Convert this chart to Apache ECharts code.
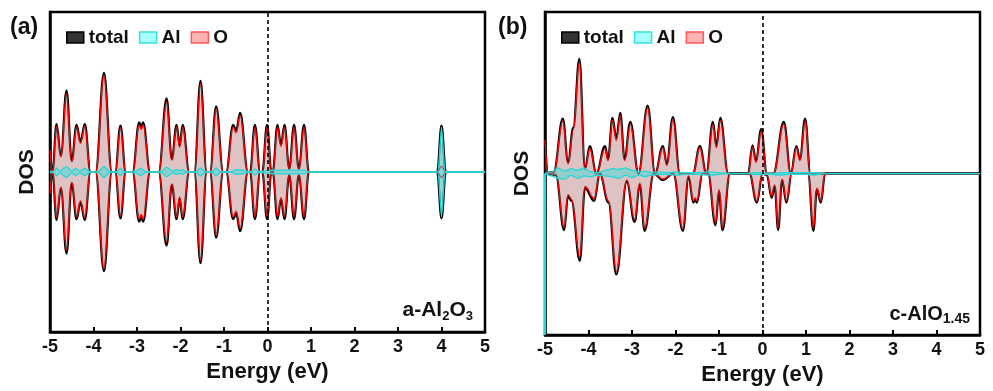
<!DOCTYPE html>
<html>
<head>
<meta charset="utf-8">
<script src="https://cdn.jsdelivr.net/npm/echarts@6/dist/echarts.min.js"></script>
<style>
  html, body { margin: 0; padding: 0; background: #fff; }
  #dos { width: 993px; height: 391px; }
</style>
</head>
<body>
<div id="dos"></div>
<script>
// 数据：能量 (eV) 和 DOS 值
// (a) a-Al2O3，上下自旋对称，下半部分取负
const energiesA = [-5.0, -4.94, -4.85, -4.75, -4.62, -4.50, -4.39, -4.30, -4.20, -4.07, -3.95, -3.76, -3.58, -3.50, -3.38, -3.26, -3.10, -2.95, -2.905, -2.86, -2.70, -2.50, -2.32, -2.20, -2.09, -2.02, -1.95, -1.80, -1.68, -1.54, -1.40, -1.32, -1.18, -1.02, -0.95, -0.79, -0.72, -0.63, -0.45, -0.40, -0.29, -0.17, -0.12, -0.01, 0.09, 0.12, 0.23, 0.31, 0.39, 0.50, 0.61, 0.72, 0.84, 0.95, 3.90, 4.00, 4.10, 5.00];
const totalA = [1.4, 0.1, 3.0, 1.0, 5.1, 0.7, 2.95, 1.9, 3.0, 0, 0, 6.2, 0, 0, 2.9, 0, 0, 3.1, 2.8, 3.1, 0, 0, 4.6, 0.8, 2.95, 1.65, 2.95, 0, 0, 5.7, 0, 0, 4.1, 0, 0, 2.95, 2.6, 3.7, 0, 0, 2.95, 0, 0, 2.95, 0, 0, 2.95, 1.7, 2.95, 0.2, 2.95, 0.2, 2.95, 0, 0, 2.9, 0, 0];
const oxyA = [1.35, 0.1, 2.85, 0.95, 4.9, 0.65, 2.8, 1.8, 2.85, 0, 0, 6.0, 0, 0, 2.75, 0, 0, 2.95, 2.65, 2.95, 0, 0, 4.4, 0.75, 2.8, 1.55, 2.8, 0, 0, 5.5, 0, 0, 3.95, 0, 0, 2.8, 2.45, 3.55, 0, 0, 2.8, 0, 0, 2.8, 0, 0, 2.8, 1.6, 2.8, 0.2, 2.8, 0.2, 2.8, 0, 0, 0.35, 0, 0];
const alEnergiesA = [-5.0, -4.93, -4.85, -4.77, -4.62, -4.50, -4.41, -4.32, -4.20, -4.08, -3.90, -3.76, -3.62, -3.48, -3.38, -3.28, -3.05, -2.92, -2.78, -2.45, -2.32, -2.18, -2.09, -2.02, -1.95, -1.85, -1.65, -1.54, -1.43, -1.28, -1.18, -1.08, -0.85, -0.72, -0.55, -0.38, -0.29, -0.20, 0.05, 0.23, 0.39, 0.61, 0.84, 0.95, 3.92, 4.00, 4.08, 5.0];
const alA = [0.05, 0, 0.25, 0.05, 0.35, 0.05, 0.22, 0.05, 0.22, 0, 0, 0.35, 0, 0, 0.22, 0, 0, 0.22, 0, 0, 0.3, 0.05, 0.15, 0.08, 0.15, 0, 0, 0.25, 0, 0, 0.25, 0, 0, 0.15, 0.1, 0, 0.2, 0, 0.1, 0.12, 0.12, 0.12, 0.12, 0, 0, 2.8, 0, 0];

// (b) c-AlO1.45，上下自旋分开读
const energiesBUp = [-5.0, -4.93, -4.80, -4.59, -4.47, -4.35, -4.21, -4.08, -3.97, -3.82, -3.62, -3.55, -3.45, -3.36, -3.27, -3.17, -3.04, -2.85, -2.64, -2.47, -2.29, -2.20, -2.06, -1.90, -1.60, -1.44, -1.29, -1.14, -1.06, -0.97, -0.79, -0.33, -0.23, -0.15, -0.03, 0.10, 0.25, 0.49, 0.65, 0.78, 0.86, 0.98, 1.10, 5.0];
const totalBUp = [2.2, 0.05, 0.1, 3.4, 0.7, 2.85, 7.1, 0.3, 1.7, 0, 1.7, 0.9, 3.45, 2.2, 3.75, 0.9, 3.2, 0, 4.2, 0, 1.7, 0.6, 3.5, 0, 0, 1.7, 0, 3.2, 1.7, 3.45, 0, 0, 1.75, 0.8, 2.75, 0, 0, 3.2, 0, 1.7, 0.9, 3.4, 0, 0];
const oxyBUp = [2.1, 0.05, 0.05, 3.25, 0.6, 2.7, 6.9, 0.25, 1.55, 0, 1.55, 0.8, 3.3, 2.05, 3.6, 0.8, 3.05, 0, 4.05, 0, 1.6, 0.5, 3.35, 0, 0, 1.6, 0, 3.05, 1.6, 3.3, 0, 0, 1.65, 0.7, 2.6, 0, 0, 3.05, 0, 1.6, 0.8, 3.25, 0, 0];
const energiesBDn = [-5.0, -4.75, -4.56, -4.47, -4.39, -4.20, -4.08, -3.87, -3.74, -3.54, -3.36, -3.12, -2.94, -2.82, -2.71, -2.50, -2.29, -2.05, -1.83, -1.70, -1.59, -1.55, -1.51, -1.38, -1.25, -1.08, -1.00, -0.92, -0.75, -0.30, -0.13, 0.0, 0.10, 0.21, 0.28, 0.36, 0.45, 0.55, 0.67, 1.05, 1.17, 1.25, 1.34, 1.44, 5.0];
const totalBDn = [0, 0.1, 3.5, 1.4, 1.7, 5.4, 0.9, 1.7, 0, 1.8, 6.25, 0.5, 3.0, 0.7, 3.55, 0, 0.4, 0, 3.55, 0.2, 1.8, 1.6, 1.8, 0, 0, 3.2, 1.1, 3.5, 0, 0, 1.8, 0, 0.1, 1.5, 0.8, 3.5, 0.4, 1.8, 0, 0, 3.55, 1.0, 1.8, 0, 0];
const oxyBDn = [0, 0.05, 3.35, 1.3, 1.6, 5.2, 0.8, 1.55, 0, 1.7, 6.05, 0.4, 2.85, 0.6, 3.4, 0, 0.35, 0, 3.4, 0.15, 1.7, 1.5, 1.7, 0, 0, 3.05, 1.0, 3.35, 0, 0, 1.7, 0, 0.1, 1.4, 0.7, 3.35, 0.35, 1.7, 0, 0, 3.4, 0.9, 1.7, 0, 0];
const alEnergiesB = [-5.0, -4.85, -4.70, -4.55, -4.40, -4.25, -4.10, -3.95, -3.80, -3.60, -3.45, -3.30, -3.15, -3.00, -2.85, -2.70, -2.55, -2.40, -2.20, -2.00, -1.80, -1.50, -1.20, -1.00, -0.80, -0.40, -0.20, 0.00, 0.20, 0.40, 0.60, 0.80, 1.00, 1.20, 1.40, 5.0];
const alBUp = [0, 0.1, 0.35, 0.15, 0.3, 0.2, 0.35, 0.1, 0.05, 0.2, 0.3, 0.25, 0.35, 0.2, 0.1, 0.15, 0.05, 0.1, 0.05, 0.1, 0.05, 0.05, 0.1, 0.05, 0, 0, 0.05, 0.05, 0, 0.05, 0.05, 0.05, 0.05, 0.05, 0, 0];
const alBDn = [0, 0.15, 0.3, 0.35, 0.1, 0.3, 0.15, 0.2, 0.1, 0.15, 0.2, 0.3, 0.1, 0.25, 0.1, 0.2, 0.1, 0.05, 0.05, 0.1, 0.05, 0.05, 0.1, 0.05, 0, 0, 0.05, 0.05, 0.05, 0.1, 0.05, 0.05, 0.05, 0.1, 0, 0];

const xTicks = [-5, -4, -3, -2, -1, 0, 1, 2, 3, 4, 5];

const FONT = '"Liberation Sans", Arial, sans-serif';

function pts(es, vs, sign) {
  return es.map((e, i) => [e, sign * vs[i]]);
}

// 三种线：total 黑, O 红, Al 青
const styles = {
  total: { line: '#000', width: 2.2, fill: 'rgba(0,0,0,0.25)', z: 2, smooth: 0.4 },
  O: { line: '#ff0000', width: 1.3, fill: 'rgba(255,150,150,0.36)', z: 3, smooth: 0.4 },
  Al: { line: '#22d8d8', width: 1.3, fill: 'rgba(0,230,230,0.5)', z: 4, smooth: 0.2 }
};

function mk(name, grid, data, extra) {
  const st = styles[name];
  const s = {
    name: name, type: 'line', xAxisIndex: grid, yAxisIndex: grid,
    data: data, showSymbol: false, smooth: st.smooth, smoothMonotone: 'x',
    z: st.z, silent: true,
    lineStyle: { color: st.line, width: st.width },
    itemStyle: { color: st.line },
    areaStyle: { color: st.fill, origin: 0 }
  };
  return Object.assign(s, extra || {});
}

function fermiLine() {
  return {
    silent: true, symbol: 'none', label: { show: false },
    lineStyle: { type: [4, 3], color: '#000', width: 1.6 },
    data: [{ xAxis: 0 }]
  };
}

function xAx(grid, gap) {
  return {
    type: 'value', gridIndex: grid, min: xTicks[0], max: xTicks[xTicks.length - 1], interval: 1,
    name: 'Energy (eV)', nameLocation: 'middle', nameGap: gap,
    nameTextStyle: { fontFamily: FONT, fontWeight: 'bold', fontSize: 22, color: '#111' },
    axisLine: { onZero: false, lineStyle: { color: '#000', width: 2.5 } },
    axisTick: { inside: true, length: 5, lineStyle: { color: '#000', width: 2 } },
    axisLabel: { margin: 6, fontFamily: FONT, fontWeight: 'bold', fontSize: 18, color: '#111' },
    splitLine: { show: false }
  };
}

function yAx(grid) {
  return {
    type: 'value', gridIndex: grid, min: -10, max: 10,
    name: 'DOS', nameLocation: 'middle', nameGap: 12, nameRotate: 90,
    nameTextStyle: { fontFamily: FONT, fontWeight: 'bold', fontSize: 21, color: '#111' },
    axisLine: { show: true, onZero: false, lineStyle: { color: '#000', width: 2.5 } },
    axisTick: { show: false }, axisLabel: { show: false }, splitLine: { show: false }
  };
}

function legendAt(left) {
  return {
    left: left, top: 23, icon: 'rect', itemWidth: 17, itemHeight: 11, itemGap: 10,
    selectedMode: false,
    textStyle: { fontFamily: FONT, fontWeight: 'bold', fontSize: 19, color: '#111' },
    data: [
      { name: 'total', itemStyle: { color: '#333', borderColor: '#000', borderWidth: 1.5 } },
      { name: 'Al', itemStyle: { color: '#a8ffff', borderColor: '#33e0e0', borderWidth: 1.5 } },
      { name: 'O', itemStyle: { color: '#ffb4b4', borderColor: '#ff5555', borderWidth: 1.5 } }
    ]
  };
}

const chart = echarts.init(document.getElementById('dos'));

const series = [
  // (a)
  mk('total', 0, pts(energiesA, totalA, 1), { markLine: fermiLine() }),
  mk('total', 0, pts(energiesA, totalA, -1)),
  mk('O', 0, pts(energiesA, oxyA, 1)),
  mk('O', 0, pts(energiesA, oxyA, -1)),
  mk('Al', 0, pts(alEnergiesA, alA, 1)),
  mk('Al', 0, pts(alEnergiesA, alA, -1)),
  // (b)
  mk('total', 1, pts(energiesBUp, totalBUp, 1), { markLine: fermiLine() }),
  mk('total', 1, pts(energiesBDn, totalBDn, -1)),
  mk('O', 1, pts(energiesBUp, oxyBUp, 1)),
  mk('O', 1, pts(energiesBDn, oxyBDn, -1)),
  mk('Al', 1, pts(alEnergiesB, alBUp, 1)),
  mk('Al', 1, pts(alEnergiesB, alBDn, -1), {
    markLine: {
      silent: true, symbol: 'none', label: { show: false },
      lineStyle: { type: 'solid', color: '#22d8d8', width: 2 },
      data: [[{ coord: [-5, 0] }, { coord: [-5, -10] }]]
    }
  })
];

function sampleLabel(right, top, rich, text) {
  return {
    type: 'text', right: right, top: top, z: 10,
    style: { text: text, rich: rich, fill: '#111' }
  };
}

const richA = {
  m: { fontFamily: FONT, fontWeight: 'bold', fontSize: 21, color: '#111' },
  s: { fontFamily: FONT, fontWeight: 'bold', fontSize: 13, color: '#111', padding: [11, 0, 0, 0] }
};
const richB = {
  m: { fontFamily: FONT, fontWeight: 'bold', fontSize: 20, color: '#111' },
  s: { fontFamily: FONT, fontWeight: 'bold', fontSize: 14, color: '#111', padding: [11, 0, 0, 0] }
};

chart.setOption({
  animation: false,
  backgroundColor: '#fff',
  grid: [
    { left: 50, top: 12, width: 435, height: 320, show: true, borderColor: '#000', borderWidth: 2.5, backgroundColor: 'transparent' },
    { left: 545, top: 12, width: 435, height: 325, show: true, borderColor: '#000', borderWidth: 2.5, backgroundColor: 'transparent' }
  ],
  legend: [legendAt(61), legendAt(556)],
  xAxis: [xAx(0, 28), xAx(1, 26)],
  yAxis: [yAx(0), yAx(1)],
  series: series,
  graphic: [
    { type: 'text', left: 10, top: 16, style: { text: '(a)', font: 'bold 23px ' + FONT, fill: '#111' } },
    { type: 'text', left: 498, top: 16, style: { text: '(b)', font: 'bold 23px ' + FONT, fill: '#111' } },
    sampleLabel(520, 300, richA, '{m|a-Al}{s|2}{m|O}{s|3}'),
    sampleLabel(23, 304, richB, '{m|c-AlO}{s|1.45}')
  ]
});
</script>
</body>
</html>
